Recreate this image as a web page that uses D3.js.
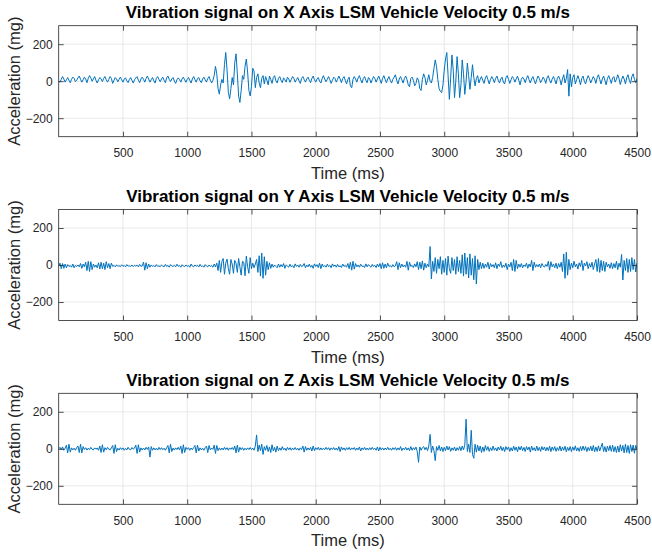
<!DOCTYPE html>
<html>
<head>
<meta charset="utf-8">
<script src="https://cdn.jsdelivr.net/npm/d3@7"></script>
<style>
  body { margin: 0; background: #fff; }
  svg { display: block; font-family: "Liberation Sans", Arial, Helvetica, sans-serif; }
</style>
</head>
<body>
<svg id="chart" width="652" height="555"></svg>
<script>
// sampling step of the traces below (ms), first sample at t = 0
const stepMs = 10;
const xTicks = [500, 1000, 1500, 2000, 2500, 3000, 3500, 4000, 4500];
const yTicks = [-200, 0, 200];
const axisNames = ["X", "Y", "Z"];

// acceleration (mg), one value per 10 ms
const accX = [
  0, -5, 10, 25, 12, -5, 8, 20, 5, -8,
  10, 22, 15, -3, 5, 18, 28, 10, -5, 8,
  22, 12, -8, 15, 30, 18, 0, 12, 25, 5,
  -10, 8, 20, 12, -2, 15, 25, 8, -5, 10,
  25, 15, -12, 5, 20, 12, -3, 10, 22, 8,
  -5, 12, 18, 2, -8, 10, 20, 5, -10, 8,
  18, 25, 5, -8, 12, 22, 10, -5, 15, 28,
  12, -5, 8, 20, 2, -10, 15, 25, 10, -3,
  12, 22, 5, -8, 18, 28, 10, -2, 12, 20,
  0, -12, 8, 18, 10, -5, 12, 22, 8, -6,
  10, 20, 5, -10, 12, 25, 8, -5, 15, 20,
  2, -8, 12, 22, 8, -5, 15, 25, 5, -10,
  5, 30, 80, 40, -40, -70, -20, 10, -10, 90,
  155, 60, -60, -95, -40, 20, -20, 100, 148, 40,
  -80, -115, -50, 30, 10, 80, 120, 50, -50, -80,
  -30, 70, 55, -35, 20, 40, -10, -35, 15, 30,
  -15, 25, 5, -20, 28, 10, -12, 20, 30, 2,
  -10, 15, 25, 5, -8, 18, 8, -5, 22, 12,
  -6, 10, 25, 15, -5, 8, 20, 2, -12, 15,
  25, 10, -5, 12, 22, 5, -8, 15, 28, 8,
  -5, 12, 20, 0, -10, 15, 30, 12, -3, 10,
  25, 8, -12, 5, 22, 15, -5, 10, 28, 12,
  -8, 15, 25, 5, -15, 10, 22, -25, -35, 10,
  25, 12, -5, 18, 30, 8, -10, 15, 25, 5,
  -8, 20, 12, -10, 8, 25, 15, -5, 12, 28,
  8, -12, 15, 30, 10, -8, 12, 25, 5, -10,
  10, 22, 35, 5, -15, 12, 25, 8, -10, 15,
  28, 10, -20, -30, 15, 22, 5, -25, -12, 18,
  5, -40, -50, 10, 40, 20, -20, 5, 35, 0,
  -10, 20, 70, 115, 80, 10, -40, -55, -62, -20,
  60, 120, 155, 30, -98, 20, 142, 60, -89, 0,
  133, 40, -89, -20, 115, 40, -71, 0, 98, 30,
  -44, 20, 89, 20, -25, 15, 30, -10, 12, 25,
  5, -12, 18, 30, 8, -15, 10, 25, 12, -8,
  15, 28, 5, -10, 12, 22, -5, -15, 18, 30,
  10, -12, 8, 25, 15, -5, 12, 28, 5, -20,
  10, 22, 12, -8, 15, 30, 8, -10, 12, 25,
  5, -15, 10, 28, 15, -8, 5, 22, 10, -12,
  18, 30, 5, -10, 12, 25, 8, -15, 15, 28,
  10, -20, 12, 35, -10, 15, 63, -81, 40, -30,
  20, 35, -15, 8, 30, 10, -20, 15, 28, 0,
  -15, 12, 30, 15, -10, 8, 25, 12, -12, 20,
  35, 10, -15, 12, 28, 5, -20, 15, 30, 10,
  -12, 18, 25, -5, 10, 35, 15, -18, 8, 28,
  12, -15, 20, 35, 5, -12, 25, 40, 10, -8,
  15
];

const accY = [
  -5, 10, -20, 8, -18, 5, -15, 2, -8, -3,
  -12, 5, -15, -2, -8, 0, -10, 8, -18, 5,
  -10, 15, -30, 20, -35, 18, -25, 5, -12, 0,
  -15, 12, -22, 15, -20, 10, -25, 18, -15, 8,
  -20, 10, -8, -2, -10, 0, -6, -4, -9, 1,
  -7, -3, -10, 2, -6, -5, -8, 0, -9, -2,
  -6, -1, -10, 3, -8, -5, 15, -28, 12, -20,
  5, -12, 0, -8, -3, -10, 2, -7, -5, -9,
  0, -6, -10, 3, -8, -2, -12, 2, -5, -8,
  -2, -10, 4, -7, -3, -12, 1, -6, -9, 0,
  -8, -3, -12, 5, -6, -10, 0, -7, -2, -11,
  3, -8, -5, -12, 2, -6, -10, 0, -8, -3,
  -12, 5, -10, 10, -30, 25, -40, 20, 35, -50,
  10, 32, -20, -50, 30, 5, -45, 25, 10, -40,
  35, -10, -55, 20, 15, -58, 48, -10, -45, 40,
  -20, 10, -15, 5, 30, -40, 50, -60, 65, -72,
  45, -55, 20, -25, 12, -18, 5, -12, 0, -8,
  -15, 5, -12, 2, -10, 8, -18, 0, -6, -12,
  4, -10, -3, -15, 6, -8, 0, -12, 3, -9,
  -5, 8, -15, 0, -10, 5, -12, -2, -18, 6,
  -8, 2, -14, 10, -20, 5, -10, -3, -12, 4,
  -9, -2, -15, 6, -8, 0, -12, 3, -10, -4,
  -14, 5, -8, -2, -12, 8, -20, 15, -28, 20,
  -22, 8, -10, 0, -12, 4, -8, -5, -14, 6,
  -10, 2, -6, -12, 3, -8, -2, -14, 5, -10,
  8, -20, 12, -18, 5, -15, 10, -8, -3, -12,
  2, -10, -5, 18, -25, 12, -15, 5, -10, 0,
  -12, 20, -28, 15, -8, -2, -14, 6, -10, 18,
  -25, 15, -20, 22, -28, 10, -15, 5, -10, 100,
  -75, 20, -35, 40, -45, 30, -20, 45, -50, 25,
  -40, 35, -55, 48, -20, -45, 40, -30, 30, -50,
  45, -35, 25, -45, 55, -60, 65, -50, 40, -70,
  60, -55, 35, -80, 50, -103, 30, -25, 15, -20,
  10, -18, 5, -12, 15, -22, 8, -10, 2, -15,
  12, -20, 5, -8, 18, -15, 0, -12, 10, -25,
  5, -10, 15, -30, 30, -35, 25, -20, 5, -12,
  8, -15, 0, -8, 10, -18, 5, -10, 25, -30,
  15, -12, 2, -10, 5, -15, 8, -5, -12, 3,
  -8, 20, -28, 18, -10, 5, -15, 10, -20, 8,
  -12, 15, -35, 60, -72, 69, -55, 30, -25, 10,
  -15, 20, -10, 5, -22, 12, -8, 25, -30, 10,
  -5, 18, -20, 8, -12, 15, -25, 5, 30, -35,
  35, -40, 25, -30, 20, -35, 15, -10, 5, -18,
  12, -20, 8, -15, 20, -25, 10, -12, 57, -81,
  25, -30, 35, -40, 30, -35, 40, -25, 30, -38,
  10
];

const accZ = [
  0, 8, -5, 10, -8, 3, 20, -22, 25, -18,
  5, -6, 3, -8, 6, 15, -20, 25, -22, 12,
  -4, 6, -7, 3, -5, 8, -3, -6, 5, -2,
  4, -8, 15, -20, 22, -18, 6, -5, 8, -3,
  -6, 5, 18, -25, 22, -15, 3, -7, 6, -4,
  5, -8, 2, -6, 8, -3, -5, 7, -2, 4,
  20, -25, 22, -18, 5, -7, 4, -6, 8, -3,
  10, -45, 12, -8, 5, -6, 3, -7, 8, -4,
  6, -5, 3, -8, 5, 18, -22, 25, -15, 4,
  -7, 5, -4, 8, -6, 15, -25, 22, -20, 8,
  -3, 6, -8, 4, -5, 7, 18, -22, 20, -12,
  5, -6, 3, -8, 6, 15, -20, 18, -6, 4,
  -3, 20, -25, 18, -10, 5, -7, 4, -6, 8,
  -4, 6, -8, 5, -3, 7, -5, 15, -22, 20,
  -18, 8, -5, 6, -8, 3, -6, 5, -4, 7,
  -5, 4, -8, 15, 75, -15, 20, -10, 25, -30,
  12, -8, 18, -15, 10, -20, 22, -12, 8, -18,
  15, -10, 5, -8, 12, -6, 3, -10, 8, -5,
  6, -8, 4, -5, 7, -6, 3, -8, 5, -4,
  15, -18, 12, -8, 5, -6, 8, -12, 15, -10,
  6, -4, 8, -7, 5, -6, 3, -5, 8, -4,
  6, -8, 5, -4, 7, -6, 4, -8, 12, -15,
  10, -6, 5, -8, 6, -4, 8, -7, 5, -3,
  7, -8, 4, -6, 10, -12, 5, -5, 8, -6,
  4, -7, 6, -5, 8, -4, 3, -8, 10, -12,
  8, -6, 5, -7, 4, -5, 8, -6, 3, -8,
  6, -4, 7, -8, 5, -6, 12, -10, 4, -5,
  8, -7, 5, -10, 12, -8, 6, -5, 10, -15,
  -73, 10, -8, 6, 12, -5, 8, -10, 15, 78,
  -20, 15, -10, -64, 12, -8, 18, -12, 10, -15,
  8, -10, 15, -6, 12, -14, 5, -8, 10, -12,
  6, -8, 12, -10, 15, -6, 20, 160, -15, 25,
  -20, 100, -30, -51, 25, -18, 20, -12, 15, -20,
  10, -15, 18, -8, 12, -14, 6, -10, 15, -8,
  5, -12, 10, -6, 14, -10, 8, -15, 12, -5,
  10, -14, 6, -12, 15, -8, 10, -16, 12, -6,
  14, -10, 8, -15, 12, -6, 10, -18, 15, -8,
  6, -12, 15, -10, 8, -14, 12, -6, 10, -12,
  8, -10, 14, -15, 10, -8, 12, -14, 6, -10,
  15, -12, 10, -8, 14, -16, 8, -10, 12, -15,
  10, -8, 16, -12, 6, -14, 12, -10, 15, -8,
  12, -15, 8, -10, 14, -12, 18, -16, 10, -14,
  16, -12, 10, 30, -15, 12, -18, 15, -10, 18,
  -14, 20, -16, 12, -20, 15, -18, 22, -12, 18,
  -22, 25, -20, 18, -25, 22, -15, 20, -24, 18,
  -5
];

const series = [accX, accY, accZ];

const svg = d3.select("#chart"),
  lineColor = "#0072BD",
  axisColor = "#262626",
  gridColor = "#e3e3e3",
  left = 58.7,
  right = 637,
  firstTop = 25.7,
  panelGap = 183.8,
  plotH = 111;

const x = d3.scaleLinear().domain([0, 4500]).range([left, right]);
const y = d3.scaleLinear().domain([-300, 300]).range([plotH, 0]);

const line = d3.line()
  .x((d, i) => x(i * stepMs))
  .y(d => y(d));

series.forEach(function (values, p) {
  const top = firstTop + p * panelGap;
  const g = svg.append("g").attr("transform", "translate(0," + top + ")");

  g.append("defs").append("clipPath")
    .attr("id", "clip" + p)
    .append("rect")
    .attr("x", left).attr("y", 0)
    .attr("width", right - left).attr("height", plotH);

  // grid
  g.append("g").selectAll("line.vx")
    .data(xTicks)
    .enter().append("line")
    .attr("x1", d => x(d)).attr("x2", d => x(d))
    .attr("y1", 0).attr("y2", plotH)
    .attr("stroke", gridColor).attr("stroke-width", 0.8);

  g.append("g").selectAll("line.hy")
    .data(yTicks)
    .enter().append("line")
    .attr("x1", left).attr("x2", right)
    .attr("y1", d => y(d)).attr("y2", d => y(d))
    .attr("stroke", gridColor).attr("stroke-width", 0.8);

  g.append("path")
    .datum(values)
    .attr("clip-path", "url(#clip" + p + ")")
    .attr("fill", "none")
    .attr("stroke", lineColor)
    .attr("stroke-width", 1)
    .attr("stroke-linejoin", "round")
    .attr("d", line);

  // axes, ticks pointing inward like matlab
  g.append("g")
    .attr("transform", "translate(0," + plotH + ")")
    .call(d3.axisBottom(x).tickValues(xTicks).tickFormat(d3.format("d"))
      .tickSizeInner(-5).tickSizeOuter(0).tickPadding(12));

  g.append("g")
    .call(d3.axisTop(x).tickValues(xTicks).tickSizeInner(-5).tickSizeOuter(0).tickFormat(""));

  g.append("g")
    .attr("transform", "translate(" + left + ",0)")
    .call(d3.axisLeft(y).tickValues(yTicks).tickFormat(d3.format("d"))
      .tickSizeInner(-5).tickSizeOuter(0).tickPadding(6));

  g.append("g")
    .attr("transform", "translate(" + right + ",0)")
    .call(d3.axisRight(y).tickValues(yTicks).tickSizeInner(-5).tickSizeOuter(0).tickFormat(""));

  g.selectAll(".domain").remove();
  g.selectAll(".tick line").attr("stroke", axisColor).attr("stroke-width", 0.8);
  g.selectAll(".tick text")
    .attr("fill", axisColor)
    .style("font-size", "12px")
    .style("font-family", "'Liberation Sans', Arial, sans-serif");

  g.append("rect")
    .attr("x", left).attr("y", 0)
    .attr("width", right - left).attr("height", plotH)
    .attr("fill", "none")
    .attr("stroke", axisColor)
    .attr("stroke-width", 0.8);

  g.append("text")
    .attr("x", (left + right) / 2)
    .attr("y", -7.5)
    .attr("text-anchor", "middle")
    .attr("fill", "#000")
    .style("font-size", "17px")
    .style("font-weight", "bold")
    .text("Vibration signal on " + axisNames[p] + " Axis LSM Vehicle Velocity 0.5 m/s");

  g.append("text")
    .attr("x", (left + right) / 2)
    .attr("y", plotH + 42)
    .attr("text-anchor", "middle")
    .attr("fill", axisColor)
    .style("font-size", "16.5px")
    .text("Time (ms)");

  g.append("text")
    .attr("transform", "translate(19.5," + (plotH / 2) + ") rotate(-90)")
    .attr("text-anchor", "middle")
    .attr("fill", axisColor)
    .style("font-size", "16.5px")
    .text("Acceleration (mg)");
});
</script>
</body>
</html>
